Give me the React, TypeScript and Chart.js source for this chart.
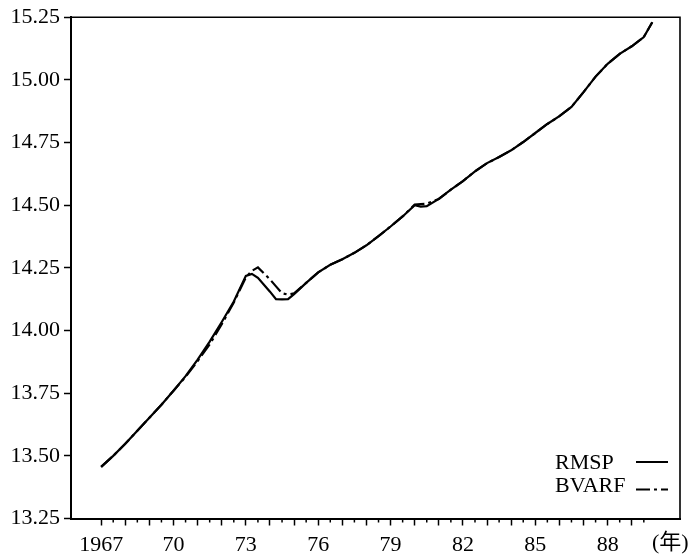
import React, { useEffect, useRef } from 'react';
import { Chart, registerables } from 'chart.js';

Chart.register(...registerables);

// Time points (decimal years)
const years = [
  1967, 1967.5, 1968, 1968.5, 1969, 1969.5, 1970, 1970.5, 1971, 1971.5,
  1972, 1972.5, 1973, 1973.25, 1973.5, 1974, 1974.25, 1974.5, 1974.75, 1975,
  1975.5, 1976, 1976.5, 1977, 1977.5, 1978, 1978.5, 1979, 1979.5, 1980,
  1980.25, 1980.5, 1981, 1981.5, 1982, 1982.5, 1983, 1983.5, 1984, 1984.5,
  1985, 1985.5, 1986, 1986.5, 1987, 1987.5, 1988, 1988.5, 1989, 1989.5,
  1989.85,
];

const rmsp = [
  13.456, 13.5, 13.548, 13.6, 13.652, 13.704, 13.76, 13.818, 13.884, 13.956,
  14.034, 14.116, 14.218, 14.226, 14.21, 14.155, 14.125, 14.124, 14.125, 14.145,
  14.19, 14.232, 14.262, 14.284, 14.31, 14.34, 14.377, 14.415, 14.455, 14.5,
  14.494, 14.496, 14.525, 14.562, 14.596, 14.635, 14.668, 14.692, 14.719, 14.752,
  14.788, 14.824, 14.855, 14.892, 14.951, 15.013, 15.064, 15.104, 15.134, 15.171,
  15.23,
];

const bvarf = [
  13.456, 13.5, 13.548, 13.6, 13.652, 13.704, 13.76, 13.815, 13.878, 13.945,
  14.025, 14.112, 14.212, 14.238, 14.252, 14.204, 14.176, 14.149, 14.143, 14.148,
  14.19, 14.232, 14.262, 14.284, 14.31, 14.34, 14.377, 14.415, 14.455, 14.502,
  14.504, 14.506, 14.525, 14.562, 14.596, 14.635, 14.668, 14.692, 14.719, 14.752,
  14.788, 14.824, 14.855, 14.892, 14.951, 15.013, 15.064, 15.104, 15.134, 15.171,
  15.23,
];

const xLabelYears = [1967, 1970, 1973, 1976, 1979, 1982, 1985, 1988];
const xLabelTexts = ['1967', '70', '73', '76', '79', '82', '85', '88'];
const xUnitLabel = '(年)';
const xUnitPos = 1990.6;
const xFirstTick = 1967;
const xLastTick = 1989.5;

const yTicks = [13.25, 13.5, 13.75, 14.0, 14.25, 14.5, 14.75, 15.0, 15.25];

const FONT = "'Liberation Serif', 'Noto Sans CJK JP', serif";

const framePlugin = {
  id: 'frameAndLegend',
  afterDraw(chart: any) {
    const { ctx, chartArea: ca } = chart;
    const xs = chart.scales.x;
    ctx.save();
    // top and right frame
    ctx.strokeStyle = '#000';
    ctx.lineWidth = 1.6;
    ctx.beginPath();
    ctx.moveTo(ca.left, ca.top);
    ctx.lineTo(ca.right, ca.top);
    ctx.lineTo(ca.right, ca.bottom);
    ctx.stroke();
    // minor half-year ticks
    ctx.lineWidth = 1.5;
    xs.ticks.forEach((t: any) => {
      if (!Number.isInteger(t.value)) {
        const px = xs.getPixelForValue(t.value);
        ctx.beginPath();
        ctx.moveTo(px, ca.bottom);
        ctx.lineTo(px, ca.bottom + 4);
        ctx.stroke();
      }
    });
    ctx.font = `22px ${FONT}`;
    ctx.fillStyle = '#000';
    // unit label on the x axis
    ctx.textAlign = 'center';
    ctx.textBaseline = 'top';
    ctx.fillText(xUnitLabel, xs.getPixelForValue(xUnitPos), xs.top + 14);
    // legend
    ctx.textBaseline = 'alphabetic';
    ctx.textAlign = 'left';
    const sampleOffsets = [-7, -2];
    chart.data.datasets.forEach((ds: any, i: number) => {
      const tx = ca.right - 125;
      const ty = ca.bottom - 49.5 + i * 22.5;
      ctx.fillText(ds.label, tx, ty);
      const tw = ctx.measureText(ds.label).width;
      const x1 = ca.right - 12;
      const x0 = Math.max(tx + tw + 3, x1 - 32);
      const ly = ty + sampleOffsets[i];
      ctx.save();
      ctx.lineWidth = 2;
      ctx.setLineDash(ds.borderDash || []);
      ctx.beginPath();
      ctx.moveTo(x0, ly);
      ctx.lineTo(x1, ly);
      ctx.stroke();
      ctx.restore();
    });
    ctx.restore();
  },
};

export default function App() {
  const ref = useRef<HTMLCanvasElement | null>(null);

  useEffect(() => {
    if (!ref.current) return;
    const chart = new Chart(ref.current, {
      type: 'line',
      data: {
        datasets: [
          {
            label: 'RMSP',
            data: years.map((x, i) => ({ x, y: rmsp[i] })),
            borderColor: '#000',
            borderWidth: 2.2,
            pointRadius: 0,
            tension: 0,
            fill: false,
          },
          {
            label: 'BVARF',
            data: years.map((x, i) => ({ x, y: bvarf[i] })),
            borderColor: '#000',
            borderWidth: 2.2,
            borderDash: [14, 4, 3, 4],
            pointRadius: 0,
            tension: 0,
            fill: false,
          },
        ],
      },
      options: {
        animation: false,
        responsive: false,
        layout: { padding: { top: 15, right: 9, left: 0, bottom: 0 } },
        plugins: { legend: { display: false }, tooltip: { enabled: false } },
        scales: {
          x: {
            type: 'linear',
            min: 1965.75,
            max: 1991,
            afterBuildTicks: (s: any) => {
              const t: any[] = [];
              for (let v = xFirstTick; v <= xLastTick + 1e-9; v += 0.5) t.push({ value: v });
              s.ticks = t;
            },
            afterFit: (s: any) => {
              s.height = 39.5;
            },
            grid: {
              drawOnChartArea: false,
              drawTicks: true,
              tickLength: 7,
              tickWidth: 1.5,
              tickColor: (c: any) =>
                c.tick && Number.isInteger(c.tick.value) ? '#000' : 'rgba(0,0,0,0)',
            },
            border: { color: '#000', width: 2 },
            ticks: {
              autoSkip: false,
              maxRotation: 0,
              minRotation: 0,
              padding: 7,
              color: '#000',
              font: { family: FONT, size: 22 },
              callback: (v: any) => {
                const idx = xLabelYears.indexOf(Number(v));
                return idx >= 0 ? xLabelTexts[idx] : '';
              },
            },
          },
          y: {
            type: 'linear',
            min: 13.25,
            max: 15.25,
            afterBuildTicks: (s: any) => {
              s.ticks = yTicks.map((v) => ({ value: v }));
            },
            afterFit: (s: any) => {
              s.width = 71;
            },
            grid: {
              drawOnChartArea: false,
              drawTicks: true,
              tickLength: 7,
              tickWidth: 1.5,
              tickColor: '#000',
            },
            border: { color: '#000', width: 2 },
            ticks: {
              padding: 4,
              color: '#000',
              font: { family: FONT, size: 22 },
              callback: (v: any) => Number(v).toFixed(2),
            },
          },
        },
      },
      plugins: [framePlugin],
    } as any);
    return () => chart.destroy();
  }, []);

  return (
    <div style={{ position: 'absolute', left: 0, top: 0, width: 689, height: 558, background: '#fff' }}>
      <canvas ref={ref} width={689} height={558} style={{ display: 'block' }} />
    </div>
  );
}
